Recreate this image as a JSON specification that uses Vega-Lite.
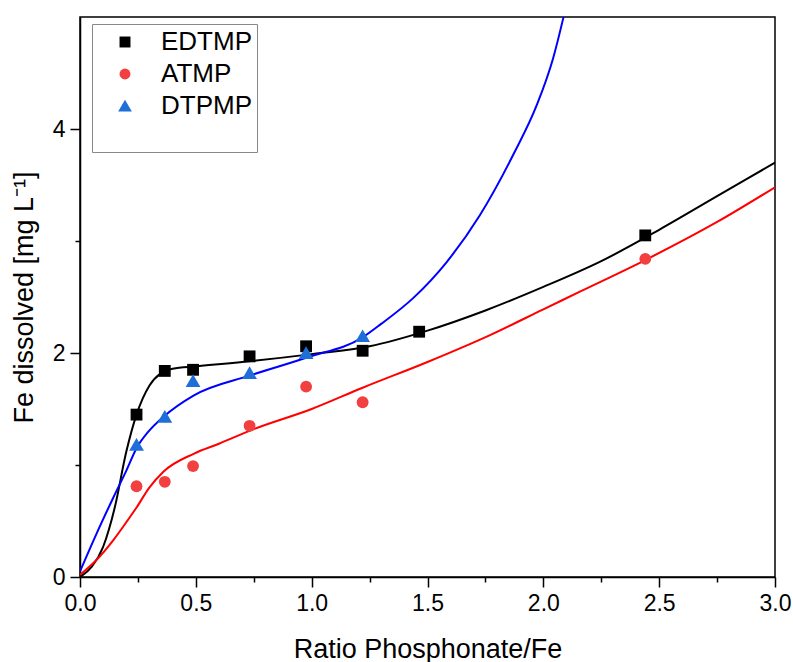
{
  "$schema": "https://vega.github.io/schema/vega-lite/v6.json",
  "width": 695,
  "height": 560,
  "autosize": "none",
  "padding": {"left": 80, "top": 17, "right": 18, "bottom": 85},
  "background": "white",
  "config": {
    "font": "Liberation Sans",
    "view": {"stroke": "black", "strokeWidth": 1.5},
    "axis": {
      "grid": false,
      "domainColor": "black",
      "domainWidth": 1.5,
      "tickColor": "black",
      "tickWidth": 1.5,
      "labelColor": "black",
      "titleColor": "black",
      "labelFontSize": 23,
      "titleFontSize": 27,
      "titleFontWeight": "normal"
    }
  },
  "datasets": {
    "points": [
      {"ratio": 0.244, "fe": 1.45, "series": "EDTMP"},
      {"ratio": 0.366, "fe": 1.84, "series": "EDTMP"},
      {"ratio": 0.488, "fe": 1.85, "series": "EDTMP"},
      {"ratio": 0.732, "fe": 1.97, "series": "EDTMP"},
      {"ratio": 0.976, "fe": 2.06, "series": "EDTMP"},
      {"ratio": 1.22, "fe": 2.02, "series": "EDTMP"},
      {"ratio": 1.464, "fe": 2.19, "series": "EDTMP"},
      {"ratio": 2.44, "fe": 3.05, "series": "EDTMP"},
      {"ratio": 0.244, "fe": 0.81, "series": "ATMP"},
      {"ratio": 0.366, "fe": 0.85, "series": "ATMP"},
      {"ratio": 0.488, "fe": 0.99, "series": "ATMP"},
      {"ratio": 0.732, "fe": 1.35, "series": "ATMP"},
      {"ratio": 0.976, "fe": 1.70, "series": "ATMP"},
      {"ratio": 1.22, "fe": 1.56, "series": "ATMP"},
      {"ratio": 2.44, "fe": 2.84, "series": "ATMP"},
      {"ratio": 0.244, "fe": 1.18, "series": "DTPMP"},
      {"ratio": 0.366, "fe": 1.43, "series": "DTPMP"},
      {"ratio": 0.488, "fe": 1.75, "series": "DTPMP"},
      {"ratio": 0.732, "fe": 1.82, "series": "DTPMP"},
      {"ratio": 0.976, "fe": 2.00, "series": "DTPMP"},
      {"ratio": 1.22, "fe": 2.15, "series": "DTPMP"}
    ],
    "curves": [
      {"ratio": 0.0, "fe": 0.0, "curve": "EDTMP"},
      {"ratio": 0.05, "fe": 0.09, "curve": "EDTMP"},
      {"ratio": 0.1, "fe": 0.27, "curve": "EDTMP"},
      {"ratio": 0.15, "fe": 0.62, "curve": "EDTMP"},
      {"ratio": 0.2, "fe": 1.12, "curve": "EDTMP"},
      {"ratio": 0.244, "fe": 1.45, "curve": "EDTMP"},
      {"ratio": 0.3, "fe": 1.71, "curve": "EDTMP"},
      {"ratio": 0.35, "fe": 1.82, "curve": "EDTMP"},
      {"ratio": 0.4, "fe": 1.86, "curve": "EDTMP"},
      {"ratio": 0.5, "fe": 1.88, "curve": "EDTMP"},
      {"ratio": 0.75, "fe": 1.93, "curve": "EDTMP"},
      {"ratio": 1.0, "fe": 1.99, "curve": "EDTMP"},
      {"ratio": 1.25, "fe": 2.06, "curve": "EDTMP"},
      {"ratio": 1.5, "fe": 2.2, "curve": "EDTMP"},
      {"ratio": 1.75, "fe": 2.38, "curve": "EDTMP"},
      {"ratio": 2.0, "fe": 2.59, "curve": "EDTMP"},
      {"ratio": 2.25, "fe": 2.82, "curve": "EDTMP"},
      {"ratio": 2.5, "fe": 3.1, "curve": "EDTMP"},
      {"ratio": 2.75, "fe": 3.4, "curve": "EDTMP"},
      {"ratio": 3.0, "fe": 3.7, "curve": "EDTMP"},
      {"ratio": 0.0, "fe": 0.02, "curve": "ATMP"},
      {"ratio": 0.07, "fe": 0.15, "curve": "ATMP"},
      {"ratio": 0.144, "fe": 0.33, "curve": "ATMP"},
      {"ratio": 0.19, "fe": 0.46, "curve": "ATMP"},
      {"ratio": 0.244, "fe": 0.62, "curve": "ATMP"},
      {"ratio": 0.3, "fe": 0.8, "curve": "ATMP"},
      {"ratio": 0.36, "fe": 0.94, "curve": "ATMP"},
      {"ratio": 0.49, "fe": 1.1, "curve": "ATMP"},
      {"ratio": 0.6, "fe": 1.19, "curve": "ATMP"},
      {"ratio": 0.75, "fe": 1.32, "curve": "ATMP"},
      {"ratio": 1.0, "fe": 1.5, "curve": "ATMP"},
      {"ratio": 1.22, "fe": 1.69, "curve": "ATMP"},
      {"ratio": 1.5, "fe": 1.92, "curve": "ATMP"},
      {"ratio": 1.77, "fe": 2.16, "curve": "ATMP"},
      {"ratio": 2.0, "fe": 2.39, "curve": "ATMP"},
      {"ratio": 2.16, "fe": 2.55, "curve": "ATMP"},
      {"ratio": 2.44, "fe": 2.83, "curve": "ATMP"},
      {"ratio": 2.75, "fe": 3.17, "curve": "ATMP"},
      {"ratio": 3.0, "fe": 3.48, "curve": "ATMP"},
      {"ratio": 0.0, "fe": 0.05, "curve": "DTPMP"},
      {"ratio": 0.072, "fe": 0.39, "curve": "DTPMP"},
      {"ratio": 0.144, "fe": 0.71, "curve": "DTPMP"},
      {"ratio": 0.2, "fe": 0.95, "curve": "DTPMP"},
      {"ratio": 0.244, "fe": 1.15, "curve": "DTPMP"},
      {"ratio": 0.3, "fe": 1.31, "curve": "DTPMP"},
      {"ratio": 0.36, "fe": 1.43, "curve": "DTPMP"},
      {"ratio": 0.49, "fe": 1.62, "curve": "DTPMP"},
      {"ratio": 0.735, "fe": 1.8, "curve": "DTPMP"},
      {"ratio": 0.98, "fe": 1.96, "curve": "DTPMP"},
      {"ratio": 1.22, "fe": 2.14, "curve": "DTPMP"},
      {"ratio": 1.3, "fe": 2.26, "curve": "DTPMP"},
      {"ratio": 1.438, "fe": 2.49, "curve": "DTPMP"},
      {"ratio": 1.582, "fe": 2.81, "curve": "DTPMP"},
      {"ratio": 1.726, "fe": 3.23, "curve": "DTPMP"},
      {"ratio": 1.87, "fe": 3.77, "curve": "DTPMP"},
      {"ratio": 1.971, "fe": 4.21, "curve": "DTPMP"},
      {"ratio": 2.042, "fe": 4.63, "curve": "DTPMP"},
      {"ratio": 2.086, "fe": 4.99, "curve": "DTPMP"},
      {"ratio": 2.13, "fe": 5.4, "curve": "DTPMP"}
    ]
  },
  "encoding": {
    "x": {
      "field": "ratio",
      "type": "quantitative",
      "scale": {"domain": [0, 3], "nice": false, "zero": false},
      "axis": {
        "title": "Ratio Phosphonate/Fe",
        "values": [0, 0.25, 0.5, 0.75, 1, 1.25, 1.5, 1.75, 2, 2.25, 2.5, 2.75, 3],
        "format": ".1f",
        "labelExpr": "(datum.value * 2) % 1 == 0 ? datum.label : ''",
        "tickSize": {"condition": {"test": "(datum.value * 2) % 1 == 0", "value": 10}, "value": 5},
        "labelPadding": 5,
        "titlePadding": 21,
        "labelFlush": false
      }
    },
    "y": {
      "field": "fe",
      "type": "quantitative",
      "scale": {"domain": [0, 5], "nice": false, "zero": false},
      "axis": {
        "title": "Fe dissolved [mg L⁻¹]",
        "values": [0, 1, 2, 3, 4],
        "labelExpr": "datum.value % 2 == 0 ? datum.label : ''",
        "tickSize": {"condition": {"test": "datum.value % 2 == 0", "value": 10}, "value": 5},
        "labelPadding": 5,
        "titlePadding": 14
      }
    }
  },
  "layer": [
    {
      "data": {"name": "curves"},
      "transform": [{"filter": "datum.curve == 'EDTMP'"}],
      "mark": {"type": "line", "interpolate": "monotone", "strokeWidth": 2, "clip": true, "color": "#000000"},
      "encoding": {}
    },
    {
      "data": {"name": "curves"},
      "transform": [{"filter": "datum.curve == 'ATMP'"}],
      "mark": {"type": "line", "interpolate": "monotone", "strokeWidth": 2, "clip": true, "color": "#ff0000"},
      "encoding": {}
    },
    {
      "data": {"name": "curves"},
      "transform": [{"filter": "datum.curve == 'DTPMP'"}],
      "mark": {"type": "line", "interpolate": "monotone", "strokeWidth": 2, "clip": true, "color": "#0000ff"},
      "encoding": {}
    },
    {
      "data": {"name": "points"},
      "mark": {"type": "point", "filled": true, "opacity": 1, "size": 140},
      "encoding": {
        "color": {
          "field": "series",
          "type": "nominal",
          "scale": {"domain": ["EDTMP", "ATMP", "DTPMP"], "range": ["#000000", "#f23f3f", "#1f6fd8"]},
          "legend": {
            "orient": "none",
            "legendX": 12,
            "legendY": 7,
            "title": "\u00a0",
            "titleOrient": "bottom",
            "titleFontSize": 20,
            "titlePadding": 8,
            "padding": 5,
            "strokeColor": "#888888",
            "fillColor": "white",
            "labelFontSize": 26,
            "labelColor": "black",
            "labelFont": "Liberation Sans",
            "symbolSize": 120,
            "symbolStrokeWidth": 0,
            "symbolOffset": 15,
            "labelOffset": 23,
            "rowPadding": 6,
            "symbolOpacity": 1
          }
        },
        "shape": {
          "field": "series",
          "type": "nominal",
          "scale": {"domain": ["EDTMP", "ATMP", "DTPMP"], "range": ["square", "circle", "M0,-1.15L1.25,1L-1.25,1Z"]}
        }
      }
    }
  ]
}
